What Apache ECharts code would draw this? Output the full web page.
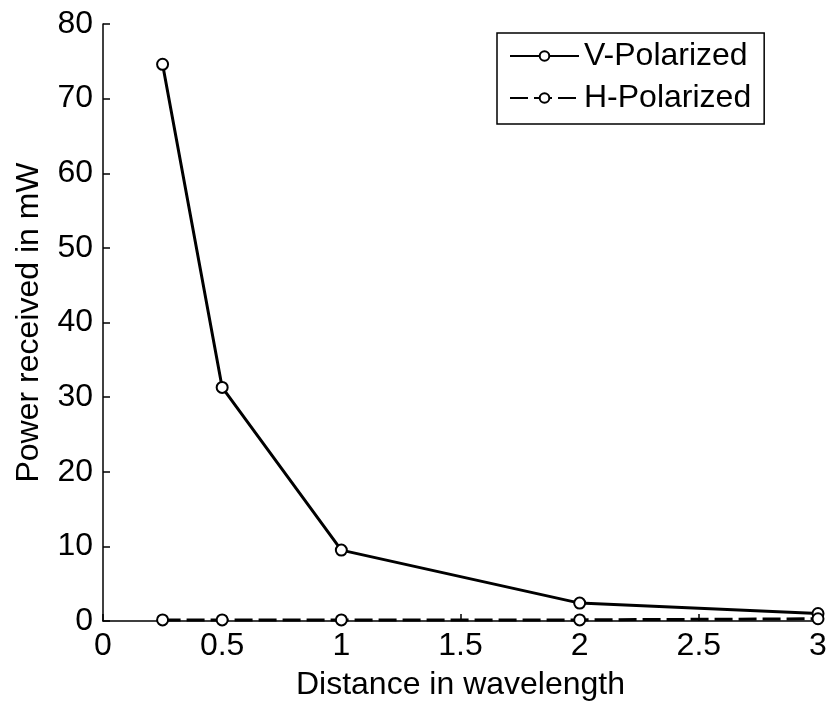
<!DOCTYPE html>
<html><head><meta charset="utf-8">
<script src="https://cdn.jsdelivr.net/npm/echarts@6/dist/echarts.min.js"></script>
<style>html,body{margin:0;padding:0;background:#fff}#c{width:829px;height:704px}</style>
</head><body><div id="c"></div>
<script>
const distances = [0.25, 0.5, 1, 2, 3];
const vPolarized = [74.6, 31.3, 9.5, 2.4, 1.0];
const hPolarized = [0.15, 0.15, 0.15, 0.15, 0.3];
const seriesNames = ['V-Polarized', 'H-Polarized'];
const xTitle = 'Distance in wavelength';
const yTitle = 'Power received in mW';

const font = 'Liberation Sans, Arial, sans-serif';
const fs = 32;
const chart = echarts.init(document.getElementById('c'), null, {renderer: 'canvas'});
const pairs = (ys) => distances.map((x, i) => [x, ys[i]]);
chart.setOption({
  animation: false,
  backgroundColor: '#fff',
  grid: {left: 103, right: 11, top: 24, bottom: 83, containLabel: false, outerBoundsMode: 'none'},
  legend: {
    orient: 'vertical', left: 497, top: 33,
    padding: [7, 13, 10, 12], itemGap: 10,
    borderColor: '#000', borderWidth: 1.5, borderRadius: 0,
    itemWidth: 69, itemHeight: 12, itemTextGap: 7,
    textStyle: {fontFamily: font, fontSize: fs, color: '#000'},
    data: seriesNames
  },
  xAxis: {
    type: 'value', min: 0, max: 3, interval: 0.5,
    name: xTitle, nameLocation: 'middle', nameGap: 48,
    nameTextStyle: {fontFamily: font, fontSize: 32, color: '#000'},
    axisLine: {show: true, lineStyle: {color: '#000', width: 1.5}},
    axisTick: {show: true, inside: true, length: 7, lineStyle: {color: '#000', width: 1.5}},
    axisLabel: {fontFamily: font, fontSize: fs, color: '#000', margin: 9},
    splitLine: {show: false}
  },
  yAxis: {
    type: 'value', min: 0, max: 80, interval: 10,
    name: yTitle, nameLocation: 'middle', nameGap: 58,
    nameTextStyle: {fontFamily: font, fontSize: 32, color: '#000'},
    axisLine: {show: true, lineStyle: {color: '#000', width: 1.5}},
    axisTick: {show: true, inside: true, length: 7, lineStyle: {color: '#000', width: 1.5}},
    axisLabel: {fontFamily: font, fontSize: fs, color: '#000', margin: 10},
    splitLine: {show: false}
  },
  series: [
    {
      name: seriesNames[0], type: 'line', data: pairs(vPolarized),
      symbol: 'emptyCircle', symbolSize: 11,
      lineStyle: {color: '#000', width: 3},
      itemStyle: {color: '#000', borderColor: '#000', borderWidth: 2}
    },
    {
      name: seriesNames[1], type: 'line', data: pairs(hPolarized),
      symbol: 'emptyCircle', symbolSize: 11,
      lineStyle: {color: '#000', width: 3, type: [18, 6]},
      itemStyle: {color: '#000', borderColor: '#000', borderWidth: 2}
    }
  ]
});
</script></body></html>
